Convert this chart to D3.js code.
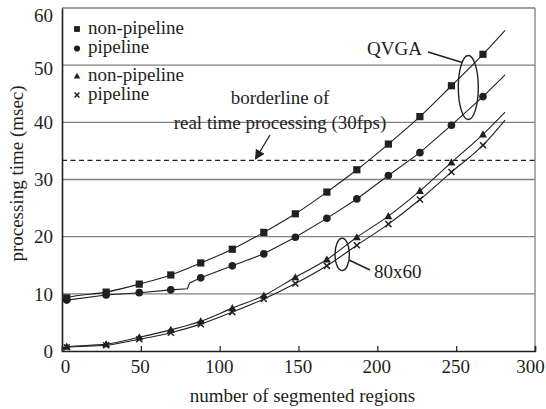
<!DOCTYPE html>
<html>
<head>
<meta charset="utf-8">
<script src="https://cdn.jsdelivr.net/npm/d3@7"></script>
<style>
  html, body { margin: 0; padding: 0; background: #fff; }
  svg { display: block; }
</style>
</head>
<body>
<svg id="chart" width="546" height="409"></svg>
<script>
// ---- data ----
const markX = [3, 28, 49, 69, 88, 108, 128, 148, 168, 187, 207, 227, 247, 267];
const qvgaNonPipeline = [9.3, 10.3, 11.7, 13.3, 15.4, 17.8, 20.75, 24.0, 27.8, 31.7, 36.2, 41.0, 46.4, 51.9];
const qvgaPipeline    = [8.9, 9.8, 10.2, 10.7, 12.8, 14.9, 17.0, 19.9, 23.2, 26.6, 30.7, 34.7, 39.5, 44.5];
const s80NonPipeline  = [0.75, 1.2, 2.4, 3.7, 5.2, 7.5, 9.7, 12.9, 16.0, 19.9, 23.6, 28.0, 33.0, 37.9];
const s80Pipeline     = [0.65, 1.0, 2.05, 3.2, 4.7, 6.8, 9.1, 11.8, 14.9, 18.5, 22.2, 26.5, 31.3, 36.0];
// line start (x = 0) and end (x = 281) values, per series
const lineStartX = 0, lineEndX = 281;
const lineStartY = [8.9, 8.8, 0.5, 0.4];
const lineEndY   = [56.1, 48.3, 41.8, 40.4];
// the pipeline QVGA curve has a small step near x = 80
const stepPipelineX = [79.5, 81];
const stepPipelineY = [10.9, 11.9];

const xTicks = [0, 50, 100, 150, 200, 250, 300];
const yTicks = [0, 10, 20, 30, 40, 50, 60];
const realTimeLimit = 1000 / 30;   // 33.3 ms
const legendLabels = ["non-pipeline", "pipeline", "non-pipeline", "pipeline"];
const markerKinds = ["square", "circle", "triangle", "cross"];
const xTitle = "number of segmented regions";
const yTitle = "processing time (msec)";

// ---- layout ----
const FONT = "Liberation Serif";
const svg = d3.select("#chart");
const ink = "#231f20";
const m = { left: 62, right: 11, top: 8, bottom: 58 };
const W = 546, H = 409;
const x = d3.scaleLinear().domain([0, 300]).range([m.left, W - m.right]);
const y = d3.scaleLinear().domain([0, 60]).range([H - m.bottom, m.top]);

function txt(sel) {
  return sel.attr("font-family", FONT).attr("font-size", 19).attr("fill", ink);
}

// gridlines
svg.append("g").selectAll("line").data(yTicks.filter(d => d > 0))
  .join("line")
  .attr("x1", x(0)).attr("x2", x(300))
  .attr("y1", d => y(d)).attr("y2", d => y(d))
  .attr("stroke", "#808080").attr("stroke-width", 1.3);
// right border
svg.append("line").attr("x1", x(300)).attr("x2", x(300)).attr("y1", y(0)).attr("y2", y(60))
  .attr("stroke", "#808080").attr("stroke-width", 1.3);

// x axis
const xAxis = svg.append("g").attr("transform", `translate(0,${y(0)})`)
  .call(d3.axisBottom(x).tickValues(xTicks).tickSize(-5).tickPadding(9).tickFormat(d3.format("d")));
xAxis.attr("font-family", FONT);
xAxis.select(".domain").attr("stroke", ink).attr("stroke-width", 1.6);
xAxis.selectAll(".tick line").attr("stroke", ink).attr("stroke-width", 1.2);
txt(xAxis.selectAll(".tick text")).attr("dy", "0.71em")
  .attr("dx", d => d === 0 ? 3 : (d === 300 ? -5 : -1));

// y axis
const yAxis = svg.append("g").attr("transform", `translate(${x(0)},0)`)
  .call(d3.axisLeft(y).tickValues(yTicks).tickSize(0).tickPadding(9).tickFormat(d3.format("d")));
yAxis.attr("font-family", FONT);
yAxis.select(".domain").attr("stroke", ink).attr("stroke-width", 1.6);
txt(yAxis.selectAll(".tick text"))
  .attr("dy", d => d === 60 ? "0.72em" : (d === 50 ? "0.5em" : "0.33em"));

// axis titles
txt(svg.append("text")).attr("x", (x(0) + x(300)) / 2 + 4).attr("y", 402)
  .attr("text-anchor", "middle").text(xTitle);
txt(svg.append("text")).attr("transform", `translate(23,${(y(0) + y(60)) / 2 - 6}) rotate(-90)`)
  .attr("text-anchor", "middle").text(yTitle);

// real time limit (dashed)
svg.append("line").attr("x1", x(0)).attr("x2", x(300))
  .attr("y1", y(realTimeLimit)).attr("y2", y(realTimeLimit))
  .attr("stroke", ink).attr("stroke-width", 1.3).attr("stroke-dasharray", "5,3.5");
txt(svg.append("text")).attr("x", 280).attr("y", 104).attr("text-anchor", "middle")
  .text("borderline of");
txt(svg.append("text")).attr("x", 280).attr("y", 129).attr("text-anchor", "middle")
  .text("real time processing (30fps)");
// arrow
const defs = svg.append("defs");
defs.append("marker").attr("id", "ah").attr("viewBox", "0 0 10 10")
  .attr("refX", 9).attr("refY", 5).attr("markerWidth", 10).attr("markerHeight", 10)
  .attr("markerUnits", "userSpaceOnUse").attr("orient", "auto")
  .append("path").attr("d", "M0,0 L10,5 L0,10 Z").attr("fill", ink);
svg.append("line").attr("x1", 270).attr("y1", 135).attr("x2", 255.5).attr("y2", 159)
  .attr("stroke", ink).attr("stroke-width", 1.3).attr("marker-end", "url(#ah)");

// series
function pts(vals, i, extra) {
  let p = markX.map((d, j) => [d, vals[j]]);
  p.unshift([lineStartX, lineStartY[i]]);
  p.push([lineEndX, lineEndY[i]]);
  if (extra) p = p.concat(extra);
  return p.sort((a, b) => a[0] - b[0]);
}
const series = [qvgaNonPipeline, qvgaPipeline, s80NonPipeline, s80Pipeline];
const line = d3.line().x(d => x(d[0])).y(d => y(d[1])).curve(d3.curveMonotoneX);
const linePlain = d3.line().x(d => x(d[0])).y(d => y(d[1]));
series.forEach((vals, i) => {
  const extra = i === 1 ? stepPipelineX.map((d, j) => [d, stepPipelineY[j]]) : null;
  svg.append("path").datum(pts(vals, i, extra)).attr("d", i === 1 ? linePlain : line)
    .attr("fill", "none").attr("stroke", ink).attr("stroke-width", 1.1);
});

function drawMarker(g, kind, cx, cy, s) {
  if (kind === "square") {
    g.append("rect").attr("x", cx - s / 2).attr("y", cy - s / 2).attr("width", s).attr("height", s).attr("fill", ink);
  } else if (kind === "circle") {
    g.append("circle").attr("cx", cx).attr("cy", cy).attr("r", s * 0.53).attr("fill", ink);
  } else if (kind === "triangle") {
    const h = s * 0.95;
    g.append("path").attr("d", `M${cx},${cy - h * 0.6} L${cx + s * 0.55},${cy + h * 0.45} L${cx - s * 0.55},${cy + h * 0.45} Z`).attr("fill", ink);
  } else {
    const r = s * 0.42;
    g.append("path").attr("d", `M${cx - r},${cy - r} L${cx + r},${cy + r} M${cx - r},${cy + r} L${cx + r},${cy - r}`)
      .attr("stroke", ink).attr("stroke-width", 1.5).attr("fill", "none");
  }
}
const markG = svg.append("g");
series.forEach((vals, i) => {
  vals.forEach((v, j) => drawMarker(markG, markerKinds[i], x(markX[j]), y(v), 7.2));
});

// legend
const legendY = [29, 48.5, 76, 95];
legendLabels.forEach((lab, i) => {
  drawMarker(svg, markerKinds[i], 77, legendY[i], 5.8);
  txt(svg.append("text")).attr("x", 88).attr("y", legendY[i] + 4.8).text(lab);
});

// group annotations
svg.append("ellipse").attr("cx", x(257.7)).attr("cy", y(46.1)).attr("rx", 10).attr("ry", 32)
  .attr("fill", "none").attr("stroke", ink).attr("stroke-width", 1.4);
svg.append("line").attr("x1", 428).attr("y1", 52).attr("x2", x(257.7) - 6).attr("y2", 62.5)
  .attr("stroke", ink).attr("stroke-width", 1.4);
txt(svg.append("text")).attr("x", 367).attr("y", 54.5).text("QVGA");

svg.append("ellipse").attr("cx", x(177.7)).attr("cy", y(16.9)).attr("rx", 7.2).attr("ry", 16.2)
  .attr("fill", "none").attr("stroke", ink).attr("stroke-width", 1.4);
svg.append("line").attr("x1", 349).attr("y1", 260).attr("x2", 370).attr("y2", 270)
  .attr("stroke", ink).attr("stroke-width", 1.4);
txt(svg.append("text")).attr("x", 374).attr("y", 278).text("80x60");
</script>
</body>
</html>
